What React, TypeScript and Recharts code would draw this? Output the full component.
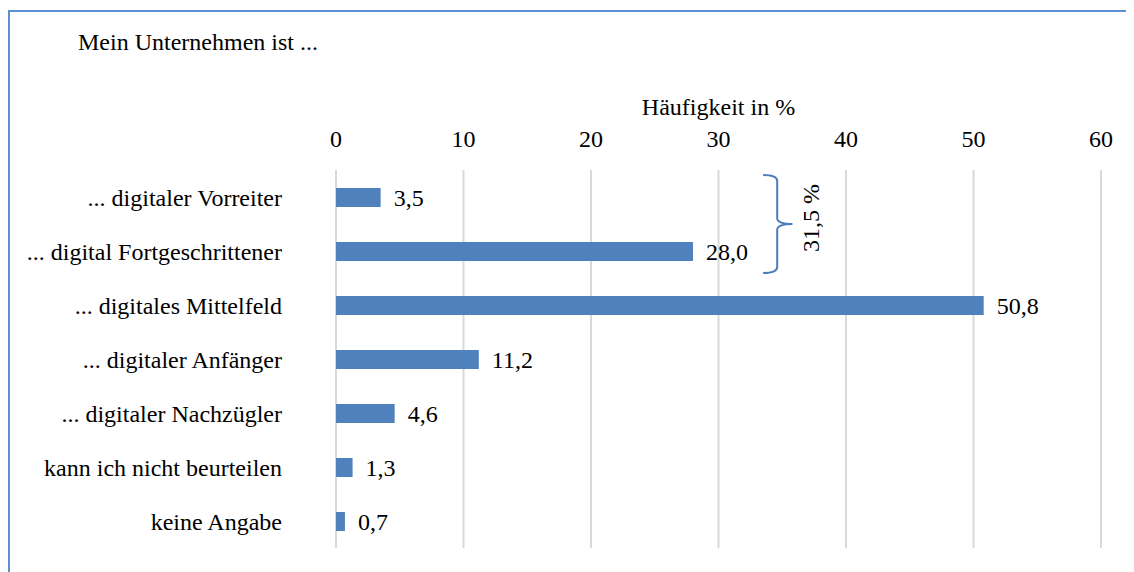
import React from 'react';
import { BarChart, Bar, XAxis, YAxis, CartesianGrid, LabelList, ReferenceArea } from 'recharts';

const categories = [
  '... digitaler Vorreiter',
  '... digital Fortgeschrittener',
  '... digitales Mittelfeld',
  '... digitaler Anfänger',
  '... digitaler Nachzügler',
  'kann ich nicht beurteilen',
  'keine Angabe',
];
const values = [3.5, 28.0, 50.8, 11.2, 4.6, 1.3, 0.7];
const xTicks = [0, 10, 20, 30, 40, 50, 60];
const chartTitle = 'Mein Unternehmen ist ...';
const axisTitle = 'Häufigkeit in %';
const braceLabel = '31,5 %';
const braceCategories = [categories[0], categories[1]];
const braceRange = [33.5, 35.8];

const data = categories.map((name, i) => ({ name, value: values[i] }));

const FONT = 'Liberation Serif, DejaVu Serif, serif';
const FS = 24;
const BAR_COLOR = '#4F81BD';
const BRACE_COLOR = '#4A7EBB';

const fmt = (v: any) => Number(v).toFixed(1).replace('.', ',');

const AxisTitle = (props: any) => {
  const vb = props.viewBox || {};
  return (
    <text
      x={vb.x + vb.width / 2}
      y={vb.y + 107}
      textAnchor="middle"
      style={{ fontFamily: FONT, fontSize: FS }}
      fill="#000"
    >
      {axisTitle}
    </text>
  );
};

const BraceShape = (props: any) => {
  const { x, y, width, height } = props;
  const top = y + 5;
  const bot = y + height - 5;
  const mid = (top + bot) / 2;
  const xv = x + width * 0.48;
  const xt = x + width;
  const r = 6;
  const d = [
    `M ${x} ${top}`,
    `Q ${xv} ${top} ${xv} ${top + r}`,
    `L ${xv} ${mid - r}`,
    `Q ${xv} ${mid} ${xt} ${mid}`,
    `Q ${xv} ${mid} ${xv} ${mid + r}`,
    `L ${xv} ${bot - r}`,
    `Q ${xv} ${bot} ${x} ${bot}`,
  ].join(' ');
  const tx = xt + 19;
  const ty = mid - 6;
  return (
    <g>
      <path d={d} fill="none" stroke={BRACE_COLOR} strokeWidth={2} />
      <text
        x={tx}
        y={ty}
        transform={`rotate(-90 ${tx} ${ty})`}
        textAnchor="middle"
        dominantBaseline="central"
        style={{ fontFamily: FONT, fontSize: FS }}
        fill="#000"
      >
        {braceLabel}
      </text>
    </g>
  );
};

export default function App() {
  return (
    <div style={{ position: 'relative', width: 1126, height: 564, overflow: 'hidden', fontFamily: FONT }}>
      <div
        style={{
          position: 'absolute',
          left: 0,
          top: 2,
          width: 1200,
          height: 700,
          borderLeft: '2px solid #5B8FD4',
          borderTop: '2px solid #5B8FD4',
          boxSizing: 'border-box',
        }}
      />
      <div
        style={{
          position: 'absolute',
          left: 70,
          top: 22,
          fontFamily: FONT,
          fontSize: FS,
          lineHeight: `${FS}px`,
          color: '#000',
          whiteSpace: 'nowrap',
        }}
      >
        {chartTitle}
      </div>
      <div style={{ position: 'absolute', left: 0, top: 0 }}>
        <BarChart
          layout="vertical"
          width={1126}
          height={564}
          data={data}
          margin={{ top: 0, right: 33, bottom: 24, left: 0 }}
          style={{ fontFamily: FONT }}
        >
          <CartesianGrid horizontal={false} stroke="#D9D9D9" strokeWidth={2} />
          <XAxis
            type="number"
            orientation="top"
            domain={[0, 60]}
            ticks={xTicks}
            interval={0}
            height={162}
            axisLine={false}
            tickLine={false}
            tickSize={0}
            tickMargin={23}
            tick={{ fontSize: FS, fill: '#000', fontFamily: FONT, style: { fontFamily: FONT } }}
            label={AxisTitle}
          />
          <YAxis
            type="category"
            dataKey="name"
            width={328}
            axisLine={false}
            tickLine={false}
            tickSize={0}
            tickMargin={54}
            interval={0}
            tick={{ fontSize: FS, fill: '#000', fontFamily: FONT, style: { fontFamily: FONT } }}
          />
          <Bar dataKey="value" fill={BAR_COLOR} barSize={19} isAnimationActive={false}>
            <LabelList
              dataKey="value"
              position="right"
              offset={13}
              formatter={fmt}
              fill="#000"
              style={{ fontSize: FS, fill: '#000', fontFamily: FONT }}
            />
          </Bar>
          <ReferenceArea
            x1={braceRange[0]}
            x2={braceRange[1]}
            y1={braceCategories[0]}
            y2={braceCategories[1]}
            ifOverflow="visible"
            shape={BraceShape}
          />
        </BarChart>
      </div>
    </div>
  );
}
